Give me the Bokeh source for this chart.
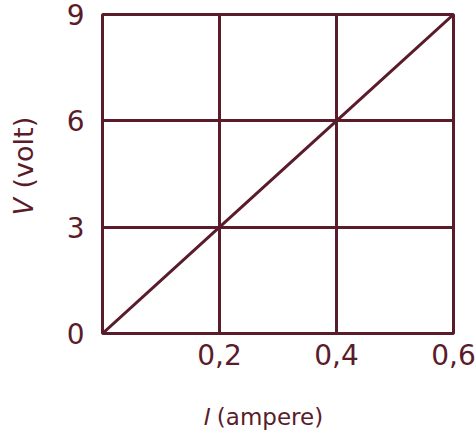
from bokeh.plotting import figure
from bokeh.models import Range1d, FixedTicker
from bokeh.embed import file_html
from bokeh.resources import INLINE

# data
current_a = [0.0, 0.2, 0.4, 0.6]
voltage_v = [0.0, 3.0, 6.0, 9.0]
x_ticks = [0.2, 0.4, 0.6]
x_tick_labels = ["0,2", "0,4", "0,6"]
y_ticks = [0, 3, 6, 9]
y_tick_labels = ["0", "3", "6", "9"]
x_title = "\U0001D43C (ampere)" + "\u00a0" * 4
y_title = "\u00a0" * 2 + "\U0001D449 (volt)"

COL = "#5a1c2b"
FONT = "DejaVu Sans"

p = figure(width=476, height=434, output_backend="svg", toolbar_location=None,
           x_range=Range1d(0, 0.6), y_range=Range1d(0, 9),
           min_border_left=102, min_border_right=23, min_border_top=14, min_border_bottom=101)
p.background_fill_color = "white"
p.border_fill_color = "white"
p.outline_line_color = COL
p.outline_line_width = 3
p.outline_line_alpha = 1

p.line(current_a, voltage_v, line_color=COL, line_width=3)

p.xaxis.ticker = FixedTicker(ticks=x_ticks)
p.xaxis.major_label_overrides = {t: s for t, s in zip(x_ticks, x_tick_labels)}
p.yaxis.ticker = FixedTicker(ticks=y_ticks)
p.yaxis.major_label_overrides = {t: s for t, s in zip(y_ticks, y_tick_labels)}

for ax in (p.xaxis[0], p.yaxis[0]):
    ax.axis_line_color = None
    ax.major_tick_line_color = None
    ax.minor_tick_line_color = None
    ax.major_tick_out = 0
    ax.major_tick_in = 0
    ax.major_label_text_font = FONT
    ax.major_label_text_font_size = "28px"
    ax.major_label_text_color = COL
    ax.axis_label_text_font = FONT
    ax.axis_label_text_font_style = "normal"
    ax.axis_label_text_color = COL
p.xaxis.major_label_standoff = 10
p.yaxis.major_label_standoff = 18
p.xaxis.axis_label = x_title
p.yaxis.axis_label = y_title
p.xaxis.axis_label_text_font_size = "23px"
p.yaxis.axis_label_text_font_size = "27px"
p.xaxis.axis_label_standoff = 36
p.yaxis.axis_label_standoff = 25

p.xgrid.ticker = FixedTicker(ticks=[0.2, 0.4])
p.ygrid.ticker = FixedTicker(ticks=[3, 6])
for g in (p.xgrid[0], p.ygrid[0]):
    g.grid_line_color = COL
    g.grid_line_width = 3
    g.grid_line_alpha = 1

open("out.html", "w").write(file_html(p, INLINE))
